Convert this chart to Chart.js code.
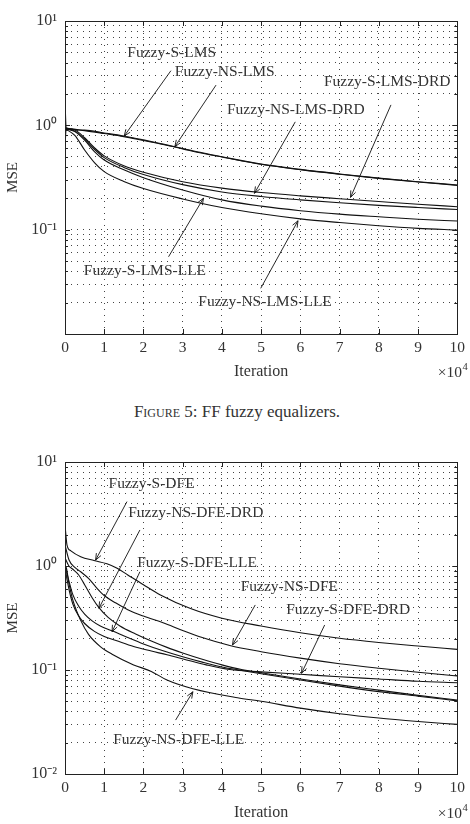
<!DOCTYPE html>
<html>
<head>
<meta charset="utf-8">
<script src="https://cdn.jsdelivr.net/npm/chart.js@4.4.1/dist/chart.umd.min.js"></script>
<style>
  body { margin: 0; background: #fff; width: 470px; height: 824px; position: relative; overflow: hidden; font-family: "Liberation Serif", serif; }
  canvas { position: absolute; left: 0; }
  #top { top: 0; }
  #bottom { top: 430px; }
  #caption { position: absolute; top: 402px; left: 0; width: 474px; text-align: center; font-size: 17px; color: #333; }
</style>
</head>
<body>
<canvas id="top" width="470" height="390"></canvas>
<div id="caption"><span style="font-variant: small-caps">Figure</span> 5: FF fuzzy equalizers.</div>
<canvas id="bottom" width="470" height="394"></canvas>
<script>
// x in units of 10^4 iterations, y = MSE
const xTicks = [0, 1, 2, 3, 4, 5, 6, 7, 8, 9, 10];
const yDecades = [0.01, 0.1, 1, 10];
const topYLabels = ['', '10⁻¹', '10⁰', '10¹'];
const bottomYLabels = ['10⁻²', '10⁻¹', '10⁰', '10¹'];

// Figure 5: FF equalizers
const topNames = ['Fuzzy-S-LMS', 'Fuzzy-NS-LMS', 'Fuzzy-S-LMS-DRD', 'Fuzzy-NS-LMS-DRD', 'Fuzzy-S-LMS-LLE', 'Fuzzy-NS-LMS-LLE'];
const fuzzySLms = [[0, 1.75], [0.03, 0.95], [0.5, 0.9], [1, 0.845], [1.5, 0.79], [2, 0.725], [2.5, 0.66], [3, 0.6], [3.5, 0.545], [4, 0.5], [5, 0.425], [6, 0.378], [7, 0.342], [8, 0.312], [9, 0.288], [10, 0.268]];
const fuzzyNsLms = [[0, 0.6], [0.03, 0.93], [0.5, 0.89], [1, 0.835], [1.5, 0.78], [2, 0.715], [2.5, 0.655], [3, 0.595], [3.5, 0.54], [4, 0.497], [5, 0.423], [6, 0.376], [7, 0.34], [8, 0.31], [9, 0.286], [10, 0.266]];
const fuzzySLmsDrd = [[0, 0.93], [0.25, 0.9], [0.5, 0.76], [0.75, 0.61], [1, 0.51], [1.5, 0.41], [2, 0.355], [3, 0.288], [4, 0.25], [5, 0.227], [6, 0.211], [7, 0.198], [8, 0.186], [9, 0.175], [10, 0.166]];
const fuzzyNsLmsDrd = [[0, 0.93], [0.25, 0.88], [0.5, 0.74], [0.75, 0.59], [1, 0.49], [1.5, 0.395], [2, 0.338], [3, 0.27], [4, 0.23], [5, 0.208], [6, 0.193], [7, 0.181], [8, 0.171], [9, 0.163], [10, 0.156]];
const fuzzySLmsLle = [[0, 0.93], [0.25, 0.87], [0.5, 0.72], [0.75, 0.56], [1, 0.465], [1.5, 0.375], [2, 0.315], [3, 0.24], [4, 0.193], [5, 0.168], [6, 0.152], [7, 0.141], [8, 0.133], [9, 0.126], [10, 0.121]];
const fuzzyNsLmsLle = [[0, 0.93], [0.25, 0.8], [0.5, 0.58], [0.75, 0.44], [1, 0.36], [1.5, 0.29], [2, 0.248], [3, 0.197], [4, 0.163], [5, 0.142], [6, 0.127], [7, 0.117], [8, 0.109], [9, 0.103], [10, 0.099]];

// bottom panel: DFE equalizers
const bottomNames = ['Fuzzy-S-DFE', 'Fuzzy-NS-DFE', 'Fuzzy-NS-DFE-DRD', 'Fuzzy-S-DFE-LLE', 'Fuzzy-S-DFE-DRD', 'Fuzzy-NS-DFE-LLE'];
const fuzzySDfe = [[0, 2.5], [0.05, 1.6], [0.15, 1.4], [0.4, 1.23], [0.74, 1.13], [1.07, 1.05], [1.33, 0.95], [1.6, 0.82], [2, 0.66], [2.42, 0.53], [3.2, 0.39], [4, 0.315], [5, 0.265], [6, 0.228], [7, 0.202], [8, 0.184], [9, 0.17], [10, 0.158]];
const fuzzyNsDfe = [[0, 1.6], [0.1, 1.15], [0.25, 0.97], [0.4, 0.88], [0.6, 0.76], [0.8, 0.62], [1, 0.52], [1.3, 0.44], [1.6, 0.38], [2, 0.33], [2.5, 0.285], [3, 0.24], [3.5, 0.205], [4.2, 0.172], [5, 0.15], [6, 0.13], [7, 0.115], [8, 0.104], [9, 0.095], [10, 0.0875]];
const fuzzyNsDfeDrd = [[0, 1.2], [0.1, 1.0], [0.2, 0.93], [0.35, 0.82], [0.5, 0.66], [0.7, 0.49], [0.86, 0.4], [1.1, 0.32], [1.4, 0.265], [1.8, 0.222], [2.2, 0.19], [2.6, 0.165], [3, 0.146], [3.5, 0.127], [4, 0.112], [4.5, 0.101], [5, 0.094], [6, 0.082], [7, 0.072], [8, 0.064], [9, 0.057], [10, 0.0515]];
const fuzzySDfeLle = [[0, 1.0], [0.1, 0.72], [0.2, 0.53], [0.35, 0.41], [0.5, 0.345], [0.7, 0.295], [0.9, 0.265], [1.2, 0.238], [1.6, 0.205], [2, 0.178], [2.5, 0.153], [3, 0.134], [3.5, 0.119], [4, 0.107], [4.5, 0.099], [5, 0.092], [6, 0.08], [7, 0.07], [8, 0.062], [9, 0.056], [10, 0.0505]];
const fuzzySDfeDrd = [[0, 0.95], [0.1, 0.6], [0.2, 0.43], [0.35, 0.33], [0.5, 0.28], [0.75, 0.235], [1, 0.21], [1.3, 0.192], [1.75, 0.168], [2.2, 0.152], [2.6, 0.14], [3.1, 0.125], [3.6, 0.112], [4.2, 0.101], [5, 0.096], [6, 0.091], [7, 0.086], [8, 0.082], [9, 0.078], [10, 0.0755]];
const fuzzyNsDfeLle = [[0, 0.05], [0.02, 1.0], [0.1, 0.68], [0.2, 0.47], [0.4, 0.3], [0.6, 0.22], [0.9, 0.168], [1.2, 0.142], [1.75, 0.112], [2.2, 0.097], [2.6, 0.08], [3.26, 0.066], [4.4, 0.054], [5, 0.05], [6, 0.043], [7, 0.038], [8, 0.0345], [9, 0.032], [10, 0.030]];

const FONT = '"Liberation Serif", serif';
const INK = '#333';

// every decade gets 1..9 gridlines (matlab style minor grid)
const yGrid = [];
yDecades.forEach((d, i) => {
    if (i === yDecades.length - 1) { yGrid.push(d); return; }
    for (let k = 1; k < 10; k++) yGrid.push(+(d * k).toPrecision(3));
});

function drawArrow(ctx, x0, y0, x1, y1) {
    const ang = Math.atan2(y1 - y0, x1 - x0);
    const h = 7, spread = 0.38;
    ctx.beginPath();
    ctx.moveTo(x0, y0);
    ctx.lineTo(x1, y1);
    ctx.moveTo(x1 - h * Math.cos(ang - spread), y1 - h * Math.sin(ang - spread));
    ctx.lineTo(x1, y1);
    ctx.lineTo(x1 - h * Math.cos(ang + spread), y1 - h * Math.sin(ang + spread));
    ctx.stroke();
}

// box, inward tick marks, curve labels with arrows, x10^4 exponent
const matlabFrame = {
    id: 'matlabFrame',
    afterDraw(chart, args, opts) {
        const { ctx, chartArea: a, scales: { x, y } } = chart;
        ctx.save();
        ctx.strokeStyle = '#222';
        ctx.lineWidth = 1;
        ctx.strokeRect(Math.round(a.left) + 0.5, Math.round(a.top) + 0.5, Math.round(a.right - a.left), Math.round(a.bottom - a.top));

        ctx.beginPath();
        xTicks.forEach(v => {
            const px = Math.round(x.getPixelForValue(v)) + 0.5;
            ctx.moveTo(px, a.bottom); ctx.lineTo(px, a.bottom - 5);
            ctx.moveTo(px, a.top); ctx.lineTo(px, a.top + 5);
        });
        yGrid.forEach(v => {
            const py = Math.round(y.getPixelForValue(v)) + 0.5;
            const len = yDecades.includes(v) ? 5 : 3;
            ctx.moveTo(a.left, py); ctx.lineTo(a.left + len, py);
            ctx.moveTo(a.right, py); ctx.lineTo(a.right - len, py);
        });
        ctx.stroke();

        ctx.fillStyle = INK;
        ctx.font = '15.5px ' + FONT;
        ctx.textBaseline = 'middle';
        ctx.textAlign = 'left';
        opts.labels.forEach((l, i) => {
            ctx.fillText(opts.names[i], x.getPixelForValue(l[0]), y.getPixelForValue(l[1]));
        });

        ctx.strokeStyle = '#111';
        ctx.lineWidth = 0.9;
        opts.arrows.forEach(ar => {
            drawArrow(ctx, x.getPixelForValue(ar[0]), y.getPixelForValue(ar[1]), x.getPixelForValue(ar[2]), y.getPixelForValue(ar[3]));
        });

        // x10^4 multiplier under the right end of the x axis
        ctx.textBaseline = 'alphabetic';
        ctx.font = '15.5px ' + FONT;
        const w = ctx.measureText('×10').width;
        const x0 = chart.width - 8 - w;
        ctx.fillText('×10', x0, opts.expY);
        ctx.font = '10.5px ' + FONT;
        ctx.fillText('4', x0 + w + 0.5, opts.expY - 7);
        ctx.restore();
    }
};

function makeChart(id, names, series, yLabels, frame, pad, xHeight, titlePad) {
    return new Chart(document.getElementById(id), {
        type: 'line',
        data: {
            datasets: series.map((s, i) => ({
                label: names[i],
                data: s.map(p => ({ x: p[0], y: p[1] })),
                borderColor: '#111',
                borderWidth: 1.1,
                pointRadius: 0,
                cubicInterpolationMode: 'monotone',
                fill: false
            }))
        },
        options: {
            responsive: false,
            animation: false,
            devicePixelRatio: 1,
            events: [],
            layout: { padding: pad },
            plugins: {
                legend: { display: false },
                tooltip: { enabled: false },
                matlabFrame: frame
            },
            scales: {
                x: {
                    type: 'linear',
                    min: 0, max: 10,
                    afterBuildTicks: (s) => { s.ticks = xTicks.map(v => ({ value: v })); },
                    afterFit: (s) => { s.height = xHeight; },
                    ticks: { autoSkip: false, maxRotation: 0, padding: 5, color: INK, font: { family: FONT, size: 15.5 } },
                    grid: { color: '#444', lineWidth: 1, drawTicks: false },
                    border: { display: false, dash: [1, 5] },
                    title: { display: true, text: 'Iteration', color: INK, font: { family: FONT, size: 16 }, padding: { top: 0, bottom: titlePad } }
                },
                y: {
                    type: 'logarithmic',
                    min: 0.01, max: 10,
                    afterBuildTicks: (s) => { s.ticks = yGrid.map(v => ({ value: v, major: yDecades.includes(v) })); },
                    afterFit: (s) => { s.width = 65; },
                    ticks: {
                        autoSkip: false, padding: 8, color: INK, font: { family: FONT, size: 16 },
                        callback: (v) => {
                            const i = yDecades.findIndex(d => Math.abs(d - v) < d * 1e-6);
                            return i < 0 ? '' : yLabels[i];
                        }
                    },
                    grid: { color: '#444', lineWidth: 1, drawTicks: false },
                    border: { display: false, dash: [1, 5] },
                    title: { display: true, text: 'MSE', color: INK, font: { family: FONT, size: 15 }, padding: { top: 4, bottom: 0 } }
                }
            }
        },
        plugins: [matlabFrame]
    });
}

makeChart('top', topNames,
    [fuzzySLms, fuzzyNsLms, fuzzySLmsDrd, fuzzyNsLmsDrd, fuzzySLmsLle, fuzzyNsLmsLle],
    topYLabels,
    {
        names: ['Fuzzy-S-LMS', 'Fuzzy-NS-LMS', 'Fuzzy-S-LMS-DRD', 'Fuzzy-NS-LMS-DRD', 'Fuzzy-S-LMS-LLE', 'Fuzzy-NS-LMS-LLE'],
        labels: [[1.59, 4.93], [2.8, 3.24], [6.6, 2.6], [4.13, 1.4], [0.48, 0.0401], [3.4, 0.0202]],
        arrows: [
            [2.7, 3.34, 1.51, 0.79],
            [3.85, 2.43, 2.8, 0.624],
            [8.31, 1.57, 7.28, 0.204],
            [5.87, 1.08, 4.83, 0.223],
            [2.64, 0.055, 3.53, 0.2],
            [4.99, 0.0274, 5.94, 0.1217]
        ],
        expY: 377
    },
    { left: 0, right: 8, top: 21, bottom: 0 }, 56, 9);

makeChart('bottom', bottomNames,
    [fuzzySDfe, fuzzyNsDfe, fuzzyNsDfeDrd, fuzzySDfeLle, fuzzySDfeDrd, fuzzyNsDfeLle],
    bottomYLabels,
    {
        names: ['Fuzzy-S-DFE', 'Fuzzy-NS-DFE-DRD', 'Fuzzy-S-DFE-LLE', 'Fuzzy-NS-DFE', 'Fuzzy-S-DFE-DRD', 'Fuzzy-NS-DFE-LLE'],
        labels: [[1.11, 6.14], [1.61, 3.26], [1.84, 1.06], [4.48, 0.632], [5.64, 0.378], [1.23, 0.0212]],
        arrows: [
            [1.58, 4.16, 0.78, 1.14],
            [1.91, 2.22, 0.864, 0.392],
            [1.91, 0.881, 1.2, 0.233],
            [4.85, 0.422, 4.27, 0.174],
            [6.62, 0.271, 6.03, 0.093],
            [2.82, 0.033, 3.26, 0.0618]
        ],
        expY: 388
    },
    { left: 0, right: 9, top: 32, bottom: 0 }, 50, 2);
</script>
</body>
</html>
